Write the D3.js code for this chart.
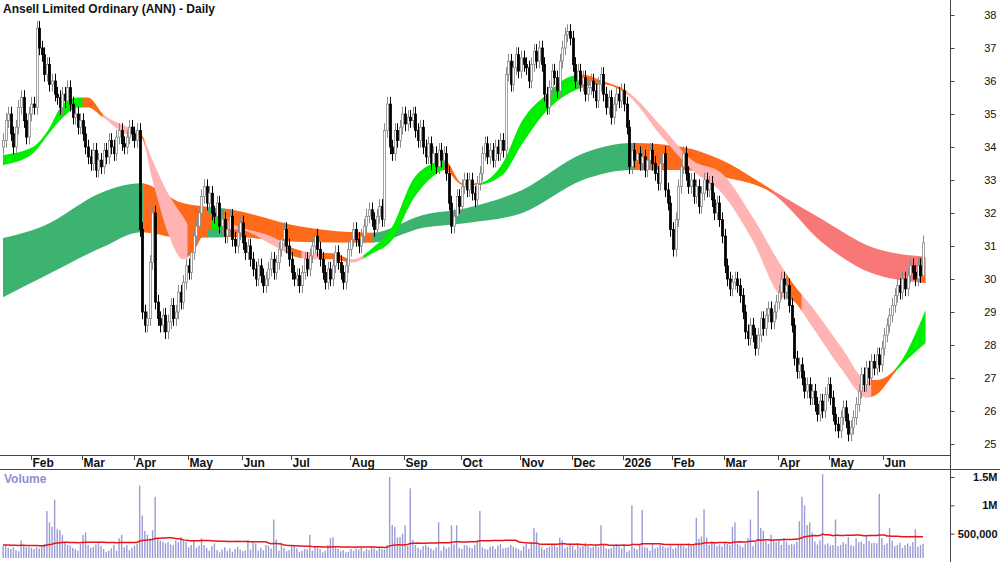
<!DOCTYPE html>
<html><head><meta charset="utf-8">
<script src="https://cdn.jsdelivr.net/npm/d3@7"></script>
<style>body{margin:0;background:#fff}svg{display:block;font-family:"Liberation Sans",Arial,sans-serif}</style>
</head><body><svg id="c" width="1000" height="562"></svg>
<script>
// ---- Daily closes by month ----
const cJan25=[34.2,34.8,35.0,34.4,34.0,34.6,35.2,35.5,34.8,34.3,35.0,35.3,35.2];
const cFeb25=[37.6,37.0,36.8,36.2,36.5,35.9,36.0,35.6,35.5,35.2,35.6,35.4,35.8,35.3,34.9,35.0,34.6,34.8,34.4,34.0];
const cMar25=[33.7,33.5,33.9,33.3,33.6,33.4,33.9,33.7,34.2,34.0,33.8,34.3,34.5,34.1,34.0,34.3,34.6,34.4,34.2,34.5];
const cApr25=[31.5,29.0,28.6,28.8,30.5,32.0,29.3,28.8,28.6,28.9,28.4,28.7,29.2,28.8,29.0,29.6,29.3,29.9,30.4,30.2,30.8];
const cMay25=[31.3,31.6,32.0,32.5,32.8,32.3,32.6,32.0,31.9,32.3,31.6,31.8,31.3,31.5,31.9,31.2,31.0,31.4,31.7,31.1,30.8];
const cJun25=[31.0,30.6,30.3,30.0,30.4,30.1,29.8,30.0,30.3,30.6,30.2,30.5,30.9,31.2,31.5,31.0,30.6,30.2,30.0];
const cJul25=[30.1,29.8,30.2,30.6,30.3,30.7,31.0,31.3,30.9,30.6,30.2,29.9,30.3,30.0,30.4,30.8,30.5,30.2,29.9,30.4,30.9,31.2,31.5];
const cAug25=[31.2,31.0,31.3,31.6,31.9,32.1,31.8,31.5,31.9,32.2,31.8,34.5,35.3,34.0,33.8,34.5,34.2,34.6,35.0,34.7,34.9];
const cSep25=[34.8,35.0,34.5,34.2,34.6,34.0,33.7,34.1,33.5,33.8,33.4,33.9,33.6,33.8,33.2,32.3,31.6,31.9,32.5,32.2,32.8,33.0];
const cOct25=[32.7,33.0,32.6,32.4,32.9,33.2,33.8,34.1,33.7,33.9,33.6,34.0,33.8,34.2,33.9,36.2,36.6,35.9,36.4,36.8,36.3,36.7,36.5];
const cNov25=[36.4,36.0,36.5,36.9,36.6,37.0,36.5,35.6,35.2,35.8,36.3,36.1,35.7,36.6,37.0,37.4,37.5,37.3,36.5,36.0];
const cDec25=[36.3,35.9,36.1,35.6,35.8,36.0,35.7,35.4,35.9,36.2,35.6,35.2,35.5,34.9,35.3,35.6,35.4,35.7,35.3,34.6];
const cJan26=[33.4,33.9,33.6,33.8,33.5,33.7,33.3,33.6,33.9,33.5,33.2,32.9,33.5,33.8,32.7,32.3,31.5,30.9,31.8];
const cFeb26=[32.8,33.4,33.8,33.2,32.8,33.0,32.5,32.8,32.2,32.6,33.0,32.7,32.9,32.4,32.0,32.3,31.8,31.3,30.4,30.0];
const cMar26=[29.7,29.9,30.0,29.8,29.5,29.0,28.4,28.2,28.6,28.3,27.9,28.3,28.8,28.5,28.9,29.1,28.7,29.0,29.3,29.6,30.0];
const cApr26=[29.6,29.8,29.2,28.6,27.6,27.2,27.4,27.0,26.6,26.8,26.4,26.6,26.2,25.9,26.3,26.0,26.5,26.8,26.4,25.9];
const cMay26=[25.6,25.4,25.8,26.1,25.7,25.3,25.5,25.8,26.2,26.6,27.1,26.8,27.3,27.0,27.5,27.3,27.7,27.4,27.9,28.3,28.6];
const cJun26=[28.9,29.2,29.5,29.8,29.6,30.0,29.7,30.1,30.4,30.2,30.0,30.4,30.1,31.1];
const firstOpen=34.0;
// ---- Volume (thousands) by month ----
const vJan25=[280,300,250,230,260,210,190,380,300,260,270,250,230];
const vFeb25=[260,240,300,320,900,700,620,1100,580,560,480,350,300,290,250,230,200,320,480,520];
const vMar25=[300,250,270,310,330,280,230,180,200,240,300,200,420,480,260,300,210,250,290,320];
const vApr25=[1350,820,550,480,420,560,1150,420,380,360,330,350,310,300,380,350,440,390,360,260,300];
const vMay25=[370,250,290,420,300,250,200,280,330,210,170,220,260,200,240,180,230,270,220,190,200];
const vJun25=[380,220,350,330,200,250,210,300,290,240,750,400,200,330,250,190,210,300,290];
const vJul25=[240,180,200,230,220,480,200,270,250,230,170,200,300,420,440,260,230,190,210,170,180,230,200];
const vAug25=[240,220,260,190,230,210,270,240,200,250,230,220,300,1500,650,620,430,440,500,650,280];
const vSep25=[1300,390,300,250,220,280,300,270,240,210,260,700,200,280,240,260,650,310,650,250,230,300];
const vOct25=[290,260,240,300,380,900,260,230,220,270,280,230,290,320,240,250,260,300,270,250,230,200,280];
const vNov25=[320,230,350,600,520,300,260,220,250,270,300,310,260,430,380,240,270,330,290,220];
const vDec25=[310,260,280,340,290,250,270,300,260,650,310,240,230,250,300,320,280,240,300,180];
const vJan26=[200,1000,250,220,310,920,260,250,200,330,240,260,310,280,250,260,290,230,250];
const vFeb26=[300,320,280,250,330,290,310,780,410,450,930,430,300,370,340,280,310,270,350,320];
const vMar26=[300,620,700,320,290,260,330,420,750,280,350,1260,600,550,380,320,480,400,350,380,300];
const vApr26=[420,360,300,320,310,360,720,1150,1000,650,700,520,360,310,380,1550,310,330,290,300];
const vMay26=[750,280,300,350,320,440,300,280,420,350,360,320,460,370,330,340,330,1200,420,300,330];
const vJun26=[600,380,280,300,340,250,300,330,280,350,580,270,300,320];
const volSeed=300;
const monthLabels=["Feb","Mar","Apr","May","Jun","Jul","Aug","Sep","Oct","Nov","Dec","2026","Feb","Mar","Apr","May","Jun"];
const priceTicks=[25,26,27,28,29,30,31,32,33,34,35,36,37,38];
const volTicks=[500000,1000000,1500000];
const volTickLabels=["500,000","1M","1.5M"];
// ---- Ribbons (bar index, top, bottom) ----
const longIdx=[0,15.5,38.8,53.5,69.8,89,116,143,163,180,201.5,225,244,263.5,279,298.5,318,337,358];
const longTop=[31.24,31.6,32.64,32.9,32.3,32.1,31.58,31.4,31.94,32.15,32.7,33.8,34.12,34.0,33.6,32.7,31.8,30.97,30.67];
const longBot=[29.45,30.06,30.97,31.42,31.24,31.27,31.12,31.1,31.55,31.7,32.0,33.0,33.3,33.3,33.1,32.6,31.1,30.18,29.88];
const longSegStart=[0,54.5,79.5,86,143.5,245,298.5,355.5];
const longSegColor=["#3cb371","#ff6a1a","#3cb371","#ff6a1a","#3cb371","#ff6a1a","#f87878","#ff6a1a"];
const shortIdx=[0,11.6,17.4,23.3,29,33,38.8,48.4,53.5,58,64,69.8,73.6,79.5,91,104.6,112.4,120,128,135.7,143.4,151,159,166.7,171.3,178.3,184,193.8,201.5,211,219,224.8,232.6,242,255.8,267.4,279,290.7,302.3,306.2,314,325.6,335.3,339,346.9,358];
const shortTop=[33.76,34.0,34.5,35.3,35.5,35.5,35.0,34.6,34.4,33.6,32.6,31.9,31.5,32.0,31.6,31.27,30.94,30.8,30.78,30.6,30.94,31.58,33.0,33.5,33.6,32.9,32.9,33.5,34.8,35.6,36.1,36.2,36.0,35.7,34.6,33.6,33.2,31.9,30.36,29.9,29.15,27.9,26.94,26.94,27.33,29.06];
const shortBot=[33.45,33.8,34.36,34.9,35.2,35.2,34.9,34.36,34.3,33.0,31.4,30.6,30.8,31.5,31.5,31.03,30.7,30.6,30.6,30.5,30.78,31.18,32.4,33.1,33.3,32.85,32.85,33.15,34.1,35.1,35.6,35.8,35.9,35.6,34.3,33.3,32.6,31.2,29.45,29.36,28.55,27.24,26.4,26.5,27.24,28.06];
const shortSegStart=[0,31,38.8,52.3,55,71.7,81,86,110,116,124,134,140,171.3,186,224,242,304,310,337,346.5];
const shortSegColor=["#00ee00","#ff6a1a","#ffb3b3","#ff6a1a","#ffb3b3","#ff6a1a","#00ee00","#ffb3b3","#ff6a1a","#ffb3b3","#ff6a1a","#ffb3b3","#00ee00","#ff6a1a","#00ee00","#ff6a1a","#ffb3b3","#ff6a1a","#ffb3b3","#ff6a1a","#00ee00"];

const cMonths=[cJan25,cFeb25,cMar25,cApr25,cMay25,cJun25,cJul25,cAug25,cSep25,cOct25,cNov25,cDec25,cJan26,cFeb26,cMar26,cApr26,cMay26,cJun26];
const vMonths=[vJan25,vFeb25,vMar25,vApr25,vMay25,vJun25,vJul25,vAug25,vSep25,vOct25,vNov25,vDec25,vJan26,vFeb26,vMar26,vApr26,vMay26,vJun26];
const closes=cMonths.flat();
const vols=[];cMonths.forEach((m,k)=>m.forEach((_,j)=>vols.push((vMonths[k][j]??300)*1000)));
const n=closes.length;
const starts=[];let acc=0;cMonths.forEach(m=>{starts.push(acc);acc+=m.length;});
const bars=closes.map((c,i)=>{const o=i?closes[i-1]:firstOpen;return{i,o,c,h:Math.max(o,c)+0.22,l:Math.min(o,c)-0.22};});

const svg=d3.select("#c");
const W=950,T=455,VT=470,VB=558;
const x=d3.scaleLinear().domain([0,n-1]).range([3,923]);
const y=d3.scaleLinear().domain([25,38]).range([444,15]);
const yv=d3.scaleLinear().domain([0,1500000]).range([562,477]);

const defs=svg.append("defs");
defs.append("clipPath").attr("id","top").append("rect").attr("x",0).attr("y",0).attr("width",W).attr("height",T);
defs.append("clipPath").attr("id","vol").append("rect").attr("x",0).attr("y",VT).attr("width",W).attr("height",VB-VT);

function ribbon(idx,top,bot,segS,segC,name){
  const pts=idx.map((d,k)=>({i:d,t:top[k],b:bot[k]}));
  const area=d3.area().curve(d3.curveMonotoneX).x(d=>x(d.i)).y0(d=>y(d.b)).y1(d=>y(d.t));
  const g=svg.append("g").attr("clip-path","url(#top)");
  segS.forEach((s,k)=>{
    const e=k+1<segS.length?segS[k+1]:n+2;
    const id=name+k;
    const x0=x(s), x1=k+1<segS.length?x(e):W;
    defs.append("clipPath").attr("id",id).append("rect").attr("x",x0-0.3).attr("y",0).attr("width",x1-x0+0.6).attr("height",T);
    g.append("g").attr("clip-path",`url(#${id})`).append("path").attr("d",area(pts)).attr("fill",segC[k]);
  });
}
ribbon(longIdx,longTop,longBot,longSegStart,longSegColor,"L");
ribbon(shortIdx,shortTop,shortBot,shortSegStart,shortSegColor,"S");

// candles
const cg=svg.append("g").attr("clip-path","url(#top)");
bars.forEach(b=>{
  const up=b.c>=b.o, col=up?"#8a8a8a":"#000";
  const cx=Math.round(x(b.i))+0.5;
  cg.append("line").attr("x1",cx).attr("x2",cx).attr("y1",y(b.h)).attr("y2",y(b.l)).attr("stroke",col).attr("stroke-width",1);
  const yt=y(Math.max(b.o,b.c)), yb=y(Math.min(b.o,b.c));
  cg.append("rect").attr("x",cx-1).attr("y",yt).attr("width",2).attr("height",Math.max(1,yb-yt))
    .attr("fill",up?"#fff":"#000").attr("stroke",col).attr("stroke-width",0.8);
});

// volume
const vg=svg.append("g").attr("clip-path","url(#vol)");
vols.forEach((v,i)=>{vg.append("rect").attr("x",x(i)-0.6).attr("width",1.4).attr("y",yv(v)).attr("height",yv(0)-yv(v)).attr("fill","#9b9bd6");});
const avg=vols.map((v,i)=>{let s=0;for(let k=i-49;k<=i;k++)s+=k>=0?vols[k]:volSeed*1000;return s/50;});
vg.append("path").attr("d",d3.line().x((d,i)=>x(i)).y(d=>yv(d))(avg)).attr("fill","none").attr("stroke","#e8141c").attr("stroke-width",1.5);
svg.append("text").attr("x",4).attr("y",483).attr("fill","#8f8fcf").attr("font-size",12).attr("font-weight","bold").text("Volume");

// frames
svg.append("line").attr("x1",0).attr("x2",1000).attr("y1",469.5).attr("y2",469.5).attr("stroke","#444");
svg.append("line").attr("x1",0).attr("x2",W).attr("y1",455.5).attr("y2",455.5).attr("stroke","#444");
svg.append("line").attr("x1",W+0.5).attr("x2",W+0.5).attr("y1",0).attr("y2",562).attr("stroke","#444");

// price axis
const pa=svg.append("g").attr("transform",`translate(${W+0.5},0)`).call(d3.axisRight(y).tickValues(priceTicks).tickSize(4).tickFormat(d3.format("d")));
pa.select(".domain").remove();
pa.selectAll("text").attr("x",46).attr("text-anchor","end").attr("font-size",11).attr("font-family","Liberation Sans, Arial").attr("fill","#111");
pa.selectAll("line").attr("stroke","#444");
const va=svg.append("g").attr("transform",`translate(${W+0.5},0)`).call(d3.axisRight(yv).tickValues(volTicks).tickSize(4).tickFormat((d,k)=>volTickLabels[k]));
va.select(".domain").remove();
va.selectAll("text").attr("x",47).attr("text-anchor","end").attr("font-size",11).attr("font-weight","bold").attr("font-family","Liberation Sans, Arial").attr("fill","#111");
va.selectAll("line").attr("stroke","#444");

// month axis
starts.slice(1).forEach((s,k)=>{
  const px=Math.round(x(s)-6)+0.5;
  svg.append("line").attr("x1",px).attr("x2",px).attr("y1",455).attr("y2",460).attr("stroke","#444");
  svg.append("text").attr("x",px+1).attr("y",467).attr("font-size",12).attr("font-weight","bold").attr("fill","#111").text(monthLabels[k]);
});

svg.append("text").attr("x",3).attr("y",13).attr("font-size",12).attr("font-weight","bold").attr("fill","#111").text("Ansell Limited Ordinary (ANN) - Daily");
</script></body></html>
